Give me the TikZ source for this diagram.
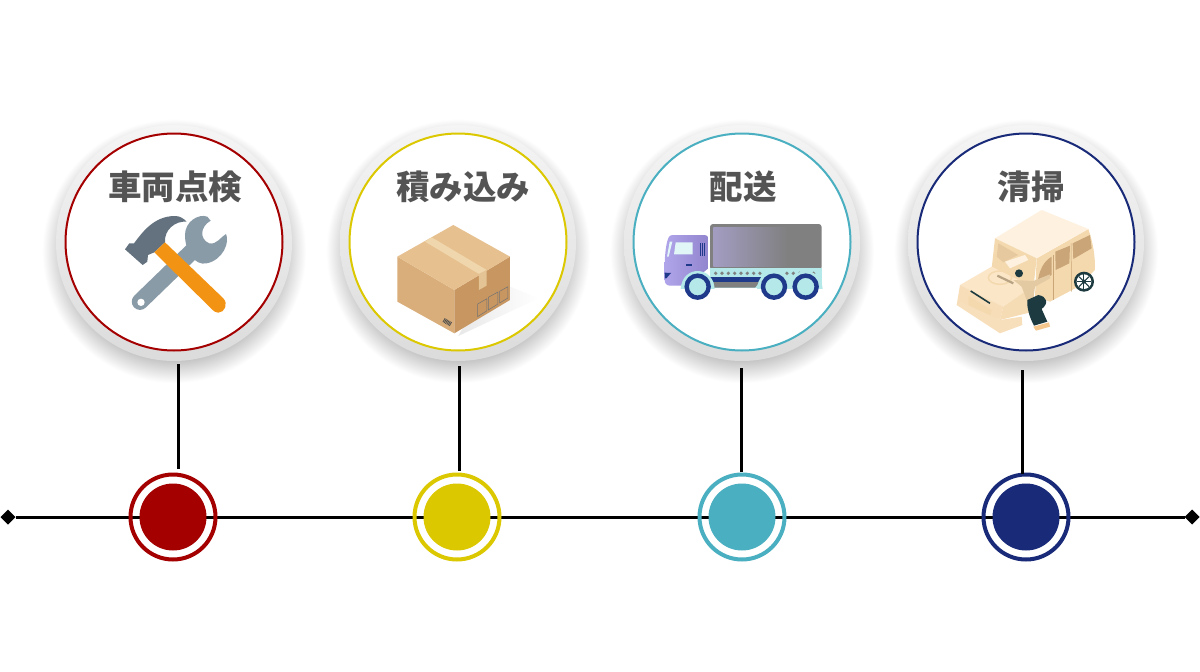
\documentclass[tikz,border=0pt]{standalone}
\usepackage{fontspec}
\usepackage{tikz}
\usetikzlibrary{shapes.geometric}
\newfontfamily\jpfont{Noto Sans CJK JP}
\definecolor{stepred}{HTML}{A50000}
\definecolor{stepyellow}{HTML}{DCC800}
\definecolor{stepteal}{HTML}{4AAFC0}
\definecolor{stepnavy}{HTML}{182A78}
\definecolor{wrenchgray}{HTML}{8A9BA8}
\definecolor{hammergray}{HTML}{63727E}
\definecolor{handleorange}{HTML}{F39313}
\definecolor{boxtop}{HTML}{E6C08E}
\definecolor{boxleft}{HTML}{D9AE7A}
\definecolor{boxright}{HTML}{C89660}
\definecolor{boxtape}{HTML}{F0D6AC}
\definecolor{truckpurple}{HTML}{A294E6}
\definecolor{truckcyan}{HTML}{B5E8E8}
\definecolor{trucknavy}{HTML}{1F3A8A}
\definecolor{vanroof}{HTML}{FEF1DF}
\definecolor{vanhood}{HTML}{FBE6C8}
\definecolor{vanbody}{HTML}{F4D9AF}
\definecolor{vanglass}{HTML}{C9A578}
\definecolor{vandark}{HTML}{1C3A3F}
\pgfdeclareradialshading{softshadow}{\pgfpointorigin}{color(0bp)=(black!34); color(19bp)=(black!32); color(25bp)=(white); color(50bp)=(white)}
\begin{document}
\begin{tikzpicture}[x=1pt,y=-1pt,
	plate/.style={circle,inner sep=0pt,minimum size=236pt,shade,top color=black!4,bottom color=black!14},
	ring/.style={circle,draw=#1,line width=2pt,fill=white,inner sep=0pt,minimum size=217pt},
	caption/.style={text=black!67,font=\jpfont\bfseries\fontsize{33.5}{35}\selectfont,inner sep=0pt},
	dotring/.style={circle,draw=#1,line width=4pt,inner sep=0pt,minimum size=85pt},
	core/.style={circle,fill=#1,inner sep=0pt,minimum size=67pt},
	tipmark/.style={diamond,fill=black,inner sep=0pt,outer sep=0pt,minimum size=15pt},
	stem/.style={black,line width=3pt}]
	\useasboundingbox (0,0) rectangle (1200,672);
	\fill[white] (0,0) rectangle (1200,672);
	% shadows and plates
	\shade[shading=softshadow] (174,251) circle [radius=132];
	\shade[shading=softshadow] (458,251) circle [radius=132];
	\shade[shading=softshadow] (742,251) circle [radius=132];
	\shade[shading=softshadow] (1026,251) circle [radius=132];
	\node[plate] (plate1) at (174,243) {};
	\node[plate] (plate2) at (458,243) {};
	\node[plate] (plate3) at (742,243) {};
	\node[plate] (plate4) at (1026,243) {};
	\node[ring=stepred] (ring1) at (174,242) {};
	\node[ring=stepyellow] (ring2) at (458,242) {};
	\node[ring=stepteal] (ring3) at (742,242) {};
	\node[ring=stepnavy] (ring4) at (1026,242) {};
	\node[caption] (label1) at (175,187) {車両点検};
	\node[caption] (label2) at (463,187) {積み込み};
	\node[caption] (label3) at (743,187) {配送};
	\node[caption] (label4) at (1031,187) {清掃};
	% time line
	\node[tipmark] (start) at (8,517) {};
	\node[tipmark] (end) at (1192,517) {};
	\draw[stem] (start) -- (end);
	\node[core=stepred] (core1) at (173,517) {};
	\node[core=stepyellow] (core2) at (457,517) {};
	\node[core=stepteal] (core3) at (742,517) {};
	\node[core=stepnavy] (core4) at (1026,517) {};
	\node[dotring=stepred] (dot1) at (173,517) {};
	\node[dotring=stepyellow] (dot2) at (457,517) {};
	\node[dotring=stepteal] (dot3) at (742,517) {};
	\node[dotring=stepnavy] (dot4) at (1026,517) {};
	\coordinate (top1) at (178,364);
	\coordinate (low1) at (178,469);
	\coordinate (top2) at (459,366);
	\coordinate (low2) at (459,471);
	\coordinate (top3) at (741,368);
	\coordinate (low3) at (741,472);
	\coordinate (top4) at (1022,370);
	\coordinate (low4) at (1022,474);
	\draw[stem] (top1) -- (low1);
	\draw[stem] (top2) -- (low2);
	\draw[stem] (top3) -- (low3);
	\draw[stem] (top4) -- (low4);
	% tools
	\begin{scope}[shift={(120,210)},scale=0.3333]
		\draw[wrenchgray,line width=16.5pt,line cap=round] (60,275) -- (215,125);
		\fill[wrenchgray] (195,75) .. controls (195,35) and (235,10) .. (262,20) -- (272,32) .. controls (240,50) and (238,88) .. (268,100) .. controls (290,105) and (303,80) .. (318,72) .. controls (330,95) and (310,150) .. (260,160) .. controls (225,168) and (195,125) .. (195,75) -- cycle;
		\fill[white] (63,277) circle [radius=11];
		\fill[hammergray] (15,118) -- (28,100) -- (42,100) .. controls (65,70) and (100,18) .. (165,18) .. controls (180,18) and (190,25) .. (200,35) .. controls (165,32) and (132,60) .. (135,97) -- (103,127) -- (84,135) -- (82,155) -- (68,165) -- cycle;
		\fill[handleorange] (103,127) -- (135,97) -- (310,265) .. controls (325,280) and (315,308) .. (295,308) .. controls (287,308) and (282,304) .. (277,299) -- cycle;
	\end{scope}
	% carton
	\begin{scope}[shift={(335,120)},scale=0.3333]
		\shade[left color=black!9,right color=white] (420,560) -- (525,500) -- (610,535) -- (370,648) -- cycle;
		\fill[boxleft] (187,410) -- (358,510) -- (358,640) -- (187,545) -- cycle;
		\fill[boxright] (358,510) -- (525,410) -- (525,540) -- (358,640) -- cycle;
		\fill[boxtop] (355,315) -- (525,410) -- (358,510) -- (187,410) -- cycle;
		\fill[boxtape] (270,365) -- (290,352) -- (455,450) -- (432,462) -- cycle;
		\fill[boxtape!70!boxright] (432,462) -- (455,450) -- (455,497) -- (432,510) -- cycle;
		\draw[black!70,line width=4.5pt,dash pattern=on 0.8pt off 0.7pt] (326,600) -- (348,613);
		\draw[black!55,line width=0.5pt] (428,552) -- (456,536) -- (456,572) -- (428,590) -- cycle;
		\draw[black!55,line width=0.5pt] (460,532) -- (489,516) -- (489,552) -- (460,570) -- cycle;
		\draw[black!55,line width=0.5pt] (494,514) -- (519,500) -- (519,534) -- (494,549) -- cycle;
	\end{scope}
	% truck
	\begin{scope}[shift={(660,215)},scale=0.3333]
		\fill[black!50,rounded corners=3pt] (150,27) rectangle (485,165);
		\shade[left color=truckpurple!70!black!65,right color=black!50] (160,37) rectangle (385,155);
		\fill[truckcyan] (150,160) rectangle (485,218);
		\fill[black!50] (160,200) -- (300,200) -- (285,218) -- (160,218) -- cycle;
		\fill[trucknavy] (150,186) rectangle (305,201);
		\fill[black!50] (167,175) circle [radius=5.5];
		\fill[black!50] (186,175) circle [radius=5.5];
		\fill[black!50] (205,175) circle [radius=5.5];
		\fill[black!50] (224,175) circle [radius=5.5];
		\fill[black!50] (243,175) circle [radius=5.5];
		\fill[black!50] (262,175) circle [radius=5.5];
		\fill[black!50] (281,175) circle [radius=5.5];
		\fill[black!50] (300,175) circle [radius=5.5];
		\fill[black!50] (381,175) circle [radius=5.5];
		\fill[black!50] (400,175) circle [radius=5.5];
		\fill[black!50] (419,175) circle [radius=5.5];
		\fill[black!50] (461,175) circle [radius=5.5];
		\shade[left color=truckpurple!85!white,right color=truckpurple!90!black] (38,60) .. controls (28,60) and (25,68) .. (22,78) .. controls (15,105) and (13,140) .. (14,195) .. controls (14,205) and (20,212) .. (30,212) -- (80,212) -- (145,160) -- (145,70) .. controls (145,64) and (140,60) .. (134,60) -- cycle;
		\fill[truckcyan!40!white] (47,82) -- (98,82) -- (98,118) -- (42,118) -- cycle;
		\fill[truckcyan!40!white] (29,80) -- (37,80) -- (26,125) -- (21,125) -- cycle;
		\draw[trucknavy,line width=0.8pt] (122,84) -- (122,123);
		\draw[trucknavy,line width=0.8pt] (127,84) -- (127,123);
		\draw[trucknavy,line width=0.8pt] (132,84) -- (132,123);
		\fill[trucknavy] (79,146) rectangle (97,153);
		\fill[trucknavy] (14,173) -- (33,174) -- (19,190) -- (15,190) -- cycle;
		\fill[truckcyan] (62,222) .. controls (66,150) and (160,150) .. (164,222) -- cycle;
		\fill[truckcyan] (291,222) .. controls (295,150) and (389,150) .. (393,222) -- cycle;
		\fill[truckcyan] (386,222) .. controls (390,150) and (484,150) .. (488,222) -- cycle;
		\draw[trucknavy,line width=4.4pt,fill=truckcyan] (113,215) circle [radius=33];
		\draw[trucknavy,line width=4.4pt,fill=truckcyan] (342,215) circle [radius=33];
		\draw[trucknavy,line width=4.4pt,fill=truckcyan] (437,215) circle [radius=33];
	\end{scope}
	% van
	\begin{scope}[shift={(950,205)},scale=0.3333]
		\fill[vanbody] (260,160) -- (415,72) .. controls (428,110) and (436,150) .. (435,195) -- (385,245) -- (300,290) -- (255,275) -- cycle;
		\fill[vanroof] (135,100) -- (275,15) -- (415,72) -- (260,160) -- cycle;
		\fill[vanbody] (135,100) -- (260,160) -- (250,250) -- (125,190) -- cycle;
		\fill[vanbody!70!vanglass] (145,115) -- (205,150) -- (160,172) -- (140,155) -- cycle;
		\fill[vanroof] (165,170) -- (225,150) -- (235,165) -- (180,190) -- cycle;
		\fill[vanglass] (262,235) .. controls (268,195) and (280,170) .. (305,155) -- (305,210) -- cycle;
		\fill[vanglass] (316,140) -- (360,122) -- (358,175) -- (317,195) -- cycle;
		\fill[vanglass] (368,115) -- (420,90) -- (425,130) -- (370,162) -- cycle;
		\draw[vanglass,line width=0.5pt] (310,150) -- (310,285);
		\draw[vanglass,line width=0.5pt] (363,115) -- (365,260);
		\fill[vanhood] (30,240) -- (125,185) -- (245,245) -- (160,305) -- cycle;
		\draw[vanbody,line width=1.5pt] (150,218) ellipse [x radius=35,y radius=20];
		\fill[vanbody!60!vanhood] (30,240) -- (160,305) -- (150,345) -- (20,300) -- cycle;
		\fill[vanbody] (55,273) -- (125,315) -- (120,335) -- (55,305) -- cycle;
		\fill[vanbody!80!vanhood] (160,305) -- (245,245) -- (250,320) -- (150,345) -- cycle;
		\fill[vanbody!50!vanhood] (20,300) -- (32,290) -- (150,345) -- (215,335) -- (217,360) -- (150,385) -- cycle;
		\draw[vandark,line width=1.6pt] (62,258) -- (120,295);
		\fill[vandark] (402,230) circle [radius=30];
		\fill[white] (402,230) circle [radius=22];
		\fill[vandark] (402,230) circle [radius=6];
		\draw[vandark,line width=1pt] (402,208) -- (402,252);
		\draw[vandark,line width=1pt] (380,230) -- (424,230);
		\draw[vandark,line width=1pt] (387,215) -- (417,245);
		\draw[vandark,line width=1pt] (417,215) -- (387,245);
		\fill[vanbody!93!black] (190,225) -- (250,228) -- (300,208) -- (300,220) -- (255,245) -- (250,285) -- (232,290) -- (215,245) -- cycle;
		\draw[vanbody!75!black,line width=2.2pt] (190,235) -- (142,212);
		\fill[vandark] (207,205) circle [radius=12];
		\fill[vandark] (232,285) -- (265,270) .. controls (292,275) and (297,295) .. (275,312) -- (292,350) -- (252,362) .. controls (240,340) and (230,310) .. (232,285) -- cycle;
		\fill[vanbody!80!orange] (250,365) -- (297,352) -- (300,365) -- (258,377) -- cycle;
	\end{scope}
\end{tikzpicture}
\end{document}
